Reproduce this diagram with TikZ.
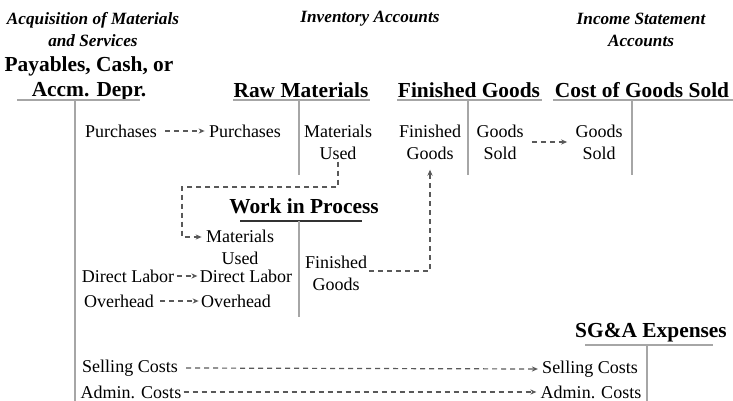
\documentclass[tikz,border=0pt]{standalone}
\usepackage{fontspec}
\setmainfont{Liberation Serif}
\usetikzlibrary{arrows.meta,calc}
\begin{document}
\begin{tikzpicture}[x=0.5pt,y=-0.5pt,
  txt/.style={inner sep=0pt, font=\fontsize{9}{11}\selectfont, align=center},
  head/.style={inner sep=0pt, font=\fontsize{10.7}{13}\selectfont\bfseries},
  cat/.style={inner sep=0pt, font=\fontsize{8.6}{11}\selectfont\bfseries\itshape, align=center},
  tline/.style={draw=gray!70, line width=0.6pt},
  uline/.style={draw=black!80, line width=0.6pt},
  flow/.style={draw=black!65, line width=0.6pt, dash pattern=on 2.5pt off 2pt, -{Stealth[length=3pt,width=2.6pt]}},
]
\useasboundingbox (0,0) rectangle (733,401);

% category headings
\node[cat] (acq) at (93,30) {Acquisition of Materials\\and Services};
\node[cat] (inv) at (370,19) {Inventory Accounts};
\node[cat] (inc) at (641,30) {Income Statement\\Accounts};

% account headings
\node[head, align=center, font=\fontsize{10.7}{12.5}\selectfont\bfseries] (pay) at (89,79) {Payables, Cash, or\\Accm. Depr.};
\node[head] (rm) at (301,90) {Raw Materials};
\node[head] (fg) at (469,90) {Finished Goods};
\node[head] (cogs) at (642,90) {Cost of Goods Sold};
\node[head] (wip) at (304,206) {Work in Process};
\node[head] (sga) at (651,333) {SG\&A Expenses};

% T-account lines
\draw[tline] (17,100) -- (140,100);
\draw[tline] (75,100) -- (75,401);
\draw[tline] (233,100) -- (370,100);
\draw[tline] (299,100) -- (299,175);
\draw[tline] (397,100) -- (542,100);
\draw[tline] (468,100) -- (468,175);
\draw[tline] (553,100) -- (733,100);
\draw[tline] (632,100) -- (632,175);
\draw[uline] (240,221) -- (362,221);
\draw[tline] (299,221) -- (299,317);
\draw[tline] (585,345) -- (713,345);
\draw[tline] (647,345) -- (647,401);

% entries
\node[txt] (pur1) at (121,131) {Purchases};
\node[txt] (pur2) at (245,131) {Purchases};
\node[txt] (mu) at (338,142) {Materials\\Used};
\node[txt] (fgo) at (430,142) {Finished\\Goods};
\node[txt] (gs1) at (500,142) {Goods\\Sold};
\node[txt] (gs2) at (599,142) {Goods\\Sold};
\node[txt] (mat) at (240,247) {Materials\\Used};
\node[txt] (dl1) at (128,276) {Direct Labor};
\node[txt] (dl2) at (246,276) {Direct Labor};
\node[txt] (oh1) at (119,301) {Overhead};
\node[txt] (oh2) at (236,301) {Overhead};
\node[txt] (fin) at (336,273) {Finished\\Goods};
\node[txt] (sc1) at (130,368) {Selling Costs};
\node[txt] (sc2) at (590,369) {Selling Costs};
\node[txt] (ad1) at (131,392) {Admin. Costs};
\node[txt] (ad2) at (591,392) {Admin. Costs};

\coordinate (corner) at (182,187);

% flows
\draw[flow] ([xshift=4pt]pur1.east) -- ([xshift=-2pt]pur2.west);
\draw[flow] ([xshift=4pt]gs1.east) -- ([xshift=-4pt]gs2.west);
\draw[flow] ([yshift=-1pt]mu.south) |- (corner) |- ([yshift=5pt,xshift=-2pt]mat.west);
\draw[flow] ([xshift=1pt]dl1.east) -- ([xshift=-1pt]dl2.west);
\draw[flow] ([xshift=3pt]oh1.east) -- ([xshift=-1pt]oh2.west);
\draw[flow] ([xshift=1pt,yshift=1pt]fin.east) -| ([yshift=-5pt]fgo.south);
\draw[flow] ([xshift=4pt]sc1.east) -- ([xshift=-2pt]sc2.west);
\draw[flow] ([xshift=1pt]ad1.east) -- ([xshift=-2pt]ad2.west);
\end{tikzpicture}
\end{document}
